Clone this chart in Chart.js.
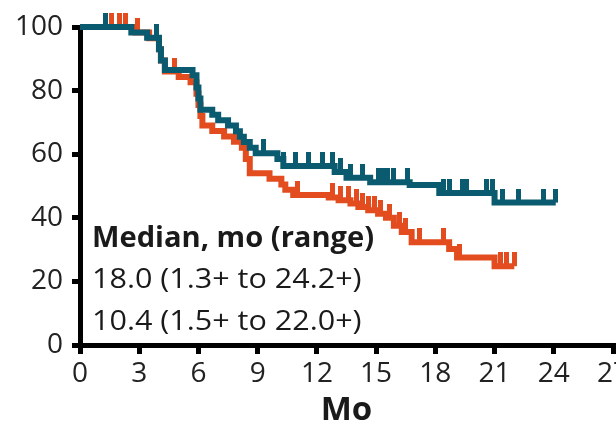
<!DOCTYPE html>
<html>
<head>
<meta charset="utf-8">
<script src="https://cdn.jsdelivr.net/npm/chart.js@4.4.0/dist/chart.umd.min.js"></script>
<style>
  html, body { margin: 0; padding: 0; background: #fff; }
  #wrap { width: 616px; height: 435px; overflow: hidden; }
</style>
</head>
<body>
<div id="wrap"><canvas id="km" width="660" height="435"></canvas></div>
<script>
// axis ticks
const xTicks = [0, 3, 6, 9, 12, 15, 18, 21, 24, 27];
const yTicks = [0, 20, 40, 60, 80, 100];

// teal arm: event times (mo) and survival (%)
const tealTimes = [0, 2.6, 3.4, 4.0, 4.1, 4.3, 5.7, 5.9, 6.0, 6.1, 6.7, 7.0, 7.5, 7.9, 8.1, 8.3, 8.6, 8.9, 10.0, 10.3, 12.9, 13.5, 14.7, 16.7, 18.2, 21.0];
const tealSurv  = [100, 98.3, 96.6, 93, 89.5, 86.5, 84.8, 81, 77.5, 74, 72.4, 70.7, 69, 67.2, 65.5, 63.8, 62, 60.3, 58.5, 56.3, 54.4, 52.6, 51.2, 50.3, 47.8, 44.8];
const tealCensor = [1.3, 3.9, 9.3, 10.3, 10.9, 11.6, 12.3, 12.8, 13.2, 13.7, 14.3, 15.1, 15.3, 15.6, 15.9, 16.6, 18.4, 18.7, 19.4, 19.6, 20.6, 20.9, 21.4, 22.2, 23.5, 24.1];

// orange arm
const orangeTimes = [0, 2.8, 3.5, 4.0, 4.1, 4.3, 5.0, 5.6, 5.9, 6.0, 6.1, 6.2, 6.7, 7.3, 7.8, 8.2, 8.4, 8.6, 9.6, 10.2, 10.4, 10.8, 12.6, 13.1, 13.7, 14.1, 14.6, 15.1, 15.5, 15.9, 16.3, 16.8, 18.7, 19.1, 21.0];
const orangeSurv  = [100, 98.3, 96.5, 93, 89.5, 86, 84.3, 82.6, 79, 75.5, 72, 69, 67.3, 65.6, 63.9, 62, 58.5, 54, 52.3, 50.5, 48.8, 47.2, 46.4, 45.5, 44.5, 43.4, 42.4, 41.3, 40, 37.5, 35.5, 32.3, 30.2, 27.5, 24.8];
const orangeCensor = [1.3, 1.6, 2.0, 2.3, 2.9, 4.8, 11.0, 12.8, 13.2, 13.6, 14.0, 14.3, 14.6, 14.9, 15.2, 15.7, 16.2, 16.5, 17.2, 18.4, 19.2, 21.3, 21.6, 22.0];

const medianHead = 'Median, mo (range)';
const medianRows = ['18.0 (1.3+ to 24.2+)', '10.4 (1.5+ to 22.0+)'];

const TEAL = '#0a5a70';
const ORANGE = '#e24c1f';
const FONT = "'Open Sans', sans-serif";

function survAt(times, surv, t) {
  let s = surv[0];
  for (let i = 0; i < times.length; i++) if (times[i] <= t) s = surv[i];
  return s;
}
function stepPoints(times, surv, censor) {
  const pts = times.map((t, i) => ({ x: t, y: surv[i] }));
  const end = Math.max(...censor);
  pts.push({ x: end, y: survAt(times, surv, end) });
  return pts;
}
function censorPoints(times, surv, censor) {
  return censor.map(t => ({ x: t, y: survAt(times, surv, t) }));
}
function tickMark(color) {
  const c = document.createElement('canvas');
  c.width = 5; c.height = 28;
  const g = c.getContext('2d');
  g.fillStyle = color;
  g.fillRect(0, 0, 5, 14);
  return c;
}

// text drawn a bit wider, like the source figure
function wideText(ctx, text, x, y, sx) {
  ctx.save();
  ctx.translate(x, y);
  ctx.scale(sx, 1);
  ctx.fillText(text, 0, 0);
  ctx.restore();
}

const medianText = {
  id: 'medianText',
  afterDraw(chart) {
    const ctx = chart.ctx;
    const a = chart.chartArea;
    ctx.save();
    ctx.fillStyle = '#1a1a1a';
    ctx.textBaseline = 'alphabetic';
    ctx.textAlign = 'left';
    ctx.font = 'bold 28px ' + FONT;
    wideText(ctx, medianHead, a.left + 12, a.bottom - 98, 1.04);
    ctx.font = '28px ' + FONT;
    wideText(ctx, medianRows[0], a.left + 12, a.bottom - 57, 1.09);
    wideText(ctx, medianRows[1], a.left + 12, a.bottom - 15, 1.09);
    ctx.restore();
  }
};

const ctx = document.getElementById('km').getContext('2d');
const kmChart = new Chart(ctx, {
  type: 'line',
  data: {
    datasets: [
      { data: censorPoints(tealTimes, tealSurv, tealCensor), showLine: false,
        pointStyle: tickMark(TEAL), pointRadius: 5, clip: false },
      { data: stepPoints(tealTimes, tealSurv, tealCensor), stepped: true,
        borderColor: TEAL, borderWidth: 6, pointRadius: 0, fill: false, clip: false },
      { data: censorPoints(orangeTimes, orangeSurv, orangeCensor), showLine: false,
        pointStyle: tickMark(ORANGE), pointRadius: 5, clip: false },
      { data: stepPoints(orangeTimes, orangeSurv, orangeCensor), stepped: true,
        borderColor: ORANGE, borderWidth: 6, pointRadius: 0, fill: false, clip: false }
    ]
  },
  options: {
    responsive: false,
    animation: false,
    layout: { padding: { top: 27, left: 0, right: 47, bottom: 0 } },
    plugins: { legend: { display: false }, tooltip: { enabled: false } },
    scales: {
      x: {
        type: 'linear', min: 0, max: 27,
        afterBuildTicks: s => { s.ticks = xTicks.map(v => ({ value: v })); },
        afterFit: s => { s.height = 90; },
        border: { color: '#000', width: 5 },
        grid: { drawOnChartArea: false, drawTicks: true, tickLength: 9, color: '#000', lineWidth: 5 },
        ticks: { color: '#222', padding: 3, font: { family: FONT, size: 28 } },
        title: { display: true, text: 'Mo', color: '#1a1a1a', padding: { top: 0, bottom: 5 },
                 font: { family: FONT, size: 33, weight: 'bold' } }
      },
      y: {
        min: 0, max: 100,
        afterBuildTicks: s => { s.ticks = yTicks.map(v => ({ value: v })); },
        afterFit: s => { s.width = 80; },
        border: { color: '#000', width: 5 },
        grid: { drawOnChartArea: false, drawTicks: true, tickLength: 8, color: '#000', lineWidth: 5 },
        ticks: { color: '#222', padding: 9, font: { family: FONT, size: 28 } }
      }
    }
  },
  plugins: [medianText]
});
</script>
</body>
</html>
